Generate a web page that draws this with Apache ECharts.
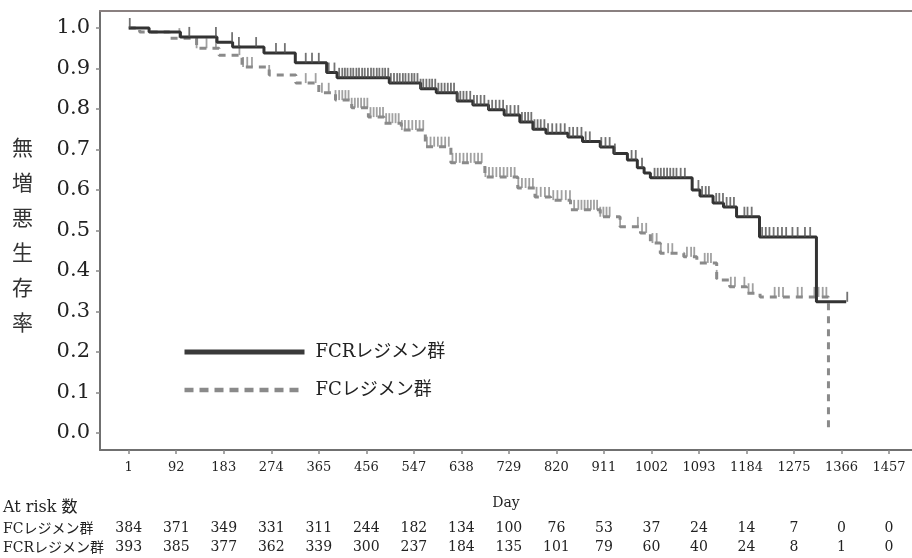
<!DOCTYPE html>
<html><head><meta charset="utf-8">
<script src="https://cdn.jsdelivr.net/npm/echarts@6/dist/echarts.min.js"></script>
<style>html,body{margin:0;padding:0;background:#fff}#c{width:912px;height:558px}</style>
</head><body><div id="c"></div>
<script>
// ---- data ----
const tickDays = [1, 92, 183, 274, 365, 456, 547, 638, 729, 820, 911, 1002, 1093, 1184, 1275, 1366, 1457];
const yTicks = [0, 0.1, 0.2, 0.3, 0.4, 0.5, 0.6, 0.7, 0.8, 0.9, 1.0];
const fcRisk = [384, 371, 349, 331, 311, 244, 182, 134, 100, 76, 53, 37, 24, 14, 7, 0, 0];
const fcrRisk = [393, 385, 377, 362, 339, 300, 237, 184, 135, 101, 79, 60, 40, 24, 8, 1, 0];

const fcrDays = [1, 40, 100, 170, 200, 260, 320, 380, 400, 500, 560, 590, 630, 660, 690, 720, 750, 775, 800, 842, 870, 904, 930, 956, 975, 988, 1000, 1080, 1095, 1120, 1140, 1165, 1209, 1318, 1375];
const fcrSurv = [1.0, 0.99, 0.978, 0.965, 0.953, 0.938, 0.914, 0.89, 0.877, 0.864, 0.85, 0.84, 0.82, 0.81, 0.798, 0.785, 0.768, 0.75, 0.74, 0.731, 0.72, 0.706, 0.69, 0.674, 0.655, 0.642, 0.63, 0.6, 0.585, 0.568, 0.558, 0.534, 0.484, 0.324, 0.324];

const fcDays = [1, 22, 79, 131, 174, 218, 270, 321, 365, 397, 428, 460, 490, 523, 569, 618, 683, 746, 779, 809, 847, 904, 942, 981, 1000, 1019, 1064, 1089, 1127, 1152, 1184, 1210, 1341];
const fcSurv = [1.0, 0.99, 0.975, 0.95, 0.933, 0.904, 0.884, 0.864, 0.84, 0.822, 0.803, 0.78, 0.765, 0.748, 0.707, 0.667, 0.632, 0.605, 0.583, 0.575, 0.551, 0.534, 0.509, 0.494, 0.469, 0.444, 0.435, 0.42, 0.378, 0.361, 0.345, 0.336, 0.0];

const fcrCensor = [3, 117, 168, 199, 212, 245, 283, 300, 340, 352, 365, 384, 395, 404, 410, 415, 420, 426, 431, 437, 442, 448, 453, 459, 465, 470, 476, 481, 487, 492, 498, 503, 509, 515, 520, 526, 531, 537, 543, 548, 554, 560, 565, 571, 577, 582, 588, 594, 600, 606, 612, 618, 624, 630, 636, 642, 648, 655, 662, 668, 675, 682, 690, 697, 704, 711, 718, 725, 732, 740, 747, 754, 760, 766, 772, 778, 784, 790, 797, 804, 812, 820, 828, 836, 845, 852, 860, 868, 876, 884, 906, 914, 922, 932, 964, 972, 984, 1008, 1014, 1020, 1026, 1032, 1038, 1044, 1050, 1058, 1066, 1092, 1099, 1106, 1112, 1126, 1132, 1139, 1146, 1153, 1160, 1180, 1186, 1194, 1214, 1221, 1228, 1236, 1244, 1252, 1260, 1272, 1282, 1296, 1306, 1377];
const fcCensor = [98, 131, 150, 168, 213, 220, 228, 237, 270, 340, 359, 371, 384, 397, 404, 410, 416, 422, 428, 434, 440, 446, 452, 458, 464, 470, 476, 482, 488, 494, 500, 506, 512, 518, 524, 530, 537, 544, 551, 558, 565, 572, 579, 586, 593, 600, 607, 614, 621, 628, 635, 642, 649, 656, 663, 670, 677, 684, 691, 698, 705, 712, 719, 726, 733, 740, 747, 754, 761, 768, 775, 782, 790, 798, 806, 814, 822, 830, 838, 846, 854, 862, 868, 874, 880, 886, 892, 898, 904, 910, 916, 922, 942, 976, 984, 992, 1004, 1012, 1020, 1034, 1042, 1070, 1078, 1084, 1104, 1110, 1116, 1127, 1154, 1162, 1180, 1188, 1196, 1238, 1246, 1254, 1282, 1290, 1314, 1322, 1330, 1337];

// ---- helpers ----
const SERIF = "'DejaVu Serif','Noto Sans CJK JP',serif";
const TXT = '#222';
function survAt(days, surv, d) {
  let v = surv[0];
  for (let i = 0; i < days.length; i++) { if (days[i] <= d) v = surv[i]; else break; }
  return v;
}
const fcrLine = fcrDays.map((d, i) => [d, fcrSurv[i]]);
const fcLine = fcDays.map((d, i) => [d, fcSurv[i]]);
const fcrMarks = fcrCensor.map(d => [d, survAt(fcrDays, fcrSurv, d)]);
const fcMarks = fcCensor.map(d => [d, survAt(fcDays, fcSurv, d)]);

const XMIN = -54, XMAX = 1501;
function riskAxis(values, offset) {
  return {
    type: 'value', min: XMIN, max: XMAX, gridIndex: 0, position: 'bottom', offset: offset,
    axisLine: {show: false, onZero: false}, axisTick: {show: false}, splitLine: {show: false},
    axisLabel: {
      customValues: tickDays, margin: 0, fontSize: 14, fontFamily: SERIF, color: TXT,
      formatter: v => String(values[tickDays.indexOf(Math.round(v))])
    }
  };
}

const chart = echarts.init(document.getElementById('c'), null, {renderer: 'canvas'});
chart.setOption({
  animation: false,
  backgroundColor: '#fff',
  grid: {left: 100, top: 11, width: 816, height: 439, containLabel: false},
  xAxis: [
    {
      type: 'value', min: XMIN, max: XMAX, position: 'bottom',
      axisLine: {show: true, onZero: false, lineStyle: {color: '#707070', width: 2}},
      axisTick: {show: true, customValues: tickDays, length: 4, lineStyle: {color: '#888', width: 1.5}},
      axisLabel: {customValues: tickDays, margin: 11, fontSize: 13, fontFamily: SERIF, color: TXT,
        formatter: v => String(Math.round(v))},
      splitLine: {show: false},
      name: 'Day', nameLocation: 'middle', nameGap: 46,
      nameTextStyle: {fontSize: 14, fontFamily: SERIF, color: TXT}
    },
    {
      type: 'value', min: XMIN, max: XMAX, position: 'top',
      axisLine: {show: true, onZero: false, lineStyle: {color: '#8a8080', width: 2}},
      axisTick: {show: false}, axisLabel: {show: false}, splitLine: {show: false}
    },
    riskAxis(fcRisk, 71),
    riskAxis(fcrRisk, 90)
  ],
  yAxis: {
    type: 'value', min: -0.042, max: 1.042,
    axisLine: {show: true, onZero: false, lineStyle: {color: '#707070', width: 2}},
    axisTick: {show: true, customValues: yTicks, length: 4, lineStyle: {color: '#888', width: 1.5}},
    axisLabel: {customValues: yTicks, margin: 10, fontSize: 21, fontFamily: SERIF, color: TXT,
      formatter: v => v.toFixed(1)},
    splitLine: {show: false}
  },
  legend: {
    orient: 'vertical', left: 177, top: 338, itemWidth: 120, itemHeight: 20, itemGap: 20,
    data: [
      {name: 'FCRレジメン群', lineStyle: {width: 5, color: '#3a3a3a', type: 'solid'}, itemStyle: {opacity: 0}},
      {name: 'FCレジメン群', lineStyle: {width: 4.5, color: '#8a8a8a', type: [9, 6]}, itemStyle: {opacity: 0}}
    ],
    textStyle: {fontSize: 18, fontFamily: SERIF, color: TXT, padding: [0, 0, 0, 6]}
  },
  graphic: [
    {type: 'text', x: 12, y: 130, style: {text: '無\n増\n悪\n生\n存\n率', font: "21px 'Noto Sans CJK JP'", lineHeight: 35, fill: '#333'}},
    {type: 'text', x: 3, y: 508, style: {text: 'At risk 数', font: '16px ' + SERIF, fill: TXT, verticalAlign: 'middle'}},
    {type: 'text', x: 3, y: 529, style: {text: 'FCレジメン群', font: '14px ' + SERIF, fill: TXT, verticalAlign: 'middle'}},
    {type: 'text', x: 3, y: 548, style: {text: 'FCRレジメン群', font: '14px ' + SERIF, fill: TXT, verticalAlign: 'middle'}}
  ],
  series: [
    {
      name: 'FCレジメン群', type: 'line', step: 'end', data: fcLine, symbol: 'none',
      itemStyle: {color: '#8a8a8a'},
      lineStyle: {color: '#8a8a8a', width: 3, type: [7, 6]}, z: 2
    },
    {
      name: 'FCcensor', type: 'scatter', data: fcMarks, symbol: 'rect', symbolSize: [1.8, 10],
      symbolOffset: [0, -5], itemStyle: {color: '#8a8a8a'}, z: 3
    },
    {
      name: 'FCRレジメン群', type: 'line', step: 'end', data: fcrLine, symbol: 'none',
      itemStyle: {color: '#333'},
      lineStyle: {color: '#333', width: 3}, z: 4
    },
    {
      name: 'FCRcensor', type: 'scatter', data: fcrMarks, symbol: 'rect', symbolSize: [1.8, 10],
      symbolOffset: [0, -5], itemStyle: {color: '#505050'}, z: 5
    }
  ]
});
</script></body></html>
